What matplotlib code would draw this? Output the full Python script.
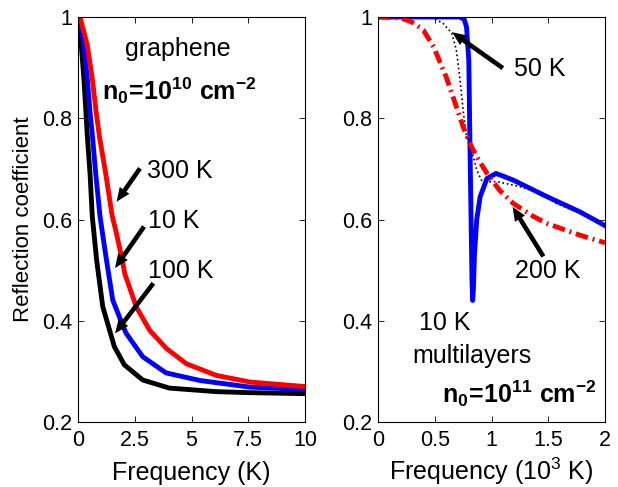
import matplotlib
matplotlib.use("Agg")
import matplotlib.pyplot as plt

plt.rcParams['font.family'] = ['Liberation Sans', 'DejaVu Sans']
plt.rcParams['mathtext.fontset'] = 'custom'
plt.rcParams['mathtext.rm'] = 'Liberation Sans'
plt.rcParams['mathtext.it'] = 'Liberation Sans'
plt.rcParams['mathtext.bf'] = 'Liberation Sans:bold'

# ---------------- data: left panel (graphene, n0=1e10 cm^-2) ----------------
freq_300 = [0.09, 0.41, 0.63, 0.80, 0.95, 1.22, 1.51, 1.66, 1.95, 2.06, 2.57, 3.16, 3.9, 4.78,
            6.1, 7.57, 10.0]
refl_300 = [1.0, 0.944, 0.878, 0.812, 0.762, 0.691, 0.606, 0.579, 0.52, 0.493, 0.427, 0.381,
            0.345, 0.315, 0.292, 0.279, 0.270]

freq_10 = [0.04, 0.26, 0.41, 0.53, 0.63, 0.78, 0.97, 1.22, 1.53, 1.82, 2.11, 2.85, 3.88, 5.37,
           7.57, 10.0]
refl_10 = [1.0, 0.944, 0.878, 0.812, 0.768, 0.691, 0.606, 0.53, 0.441, 0.408, 0.376, 0.329,
           0.297, 0.282, 0.269, 0.264]

freq_100 = [0.0, 0.146, 0.26, 0.35, 0.41, 0.53, 0.63, 0.82, 1.09, 1.6, 2.04, 2.85, 4.02, 6.08,
            7.5, 10.0]
refl_100 = [1.0, 0.944, 0.878, 0.812, 0.765, 0.691, 0.606, 0.52, 0.428, 0.349, 0.313, 0.283,
            0.267, 0.260, 0.258, 0.256]

# ---------------- data: right panel (multilayers, n0=1e11 cm^-2) ----------------
mfreq_10 = [0.0, 0.5, 0.72, 0.76, 0.78, 0.80, 0.81, 0.82, 0.828, 0.834, 0.84, 0.85, 0.87,
            0.90, 0.96, 1.04, 1.19, 1.49, 1.78, 2.0]
mrefl_10 = [1.0, 1.0, 1.0, 0.995, 0.98, 0.915, 0.75, 0.60, 0.48, 0.44, 0.46, 0.53, 0.60,
            0.645, 0.681, 0.691, 0.678, 0.645, 0.615, 0.588]

mfreq_50 = [0.0, 0.3, 0.49, 0.575, 0.65, 0.69, 0.72, 0.75, 0.78, 0.84, 0.87, 0.91, 0.97,
            1.045, 1.25, 1.40, 1.57, 1.78, 2.0]
mrefl_50 = [1.0, 1.0, 0.998, 0.987, 0.968, 0.935, 0.882, 0.816, 0.764, 0.724, 0.698, 0.678,
            0.674, 0.675, 0.665, 0.655, 0.632, 0.612, 0.585]

mfreq_200 = [0.0, 0.2, 0.3, 0.4, 0.49, 0.6, 0.69, 0.75, 0.81, 0.87, 0.96, 1.07, 1.19, 1.37,
             1.49, 1.78, 2.0]
mrefl_200 = [1.0, 0.998, 0.99, 0.974, 0.941, 0.882, 0.823, 0.783, 0.75, 0.724, 0.691, 0.658,
             0.632, 0.606, 0.592, 0.569, 0.554]

left_xticks = [0, 2.5, 5, 7.5, 10]
left_xticklabels = ['0', '2.5', '5', '7.5', '10']
right_xticks = [0, 0.5, 1, 1.5, 2]
right_xticklabels = ['0', '0.5', '1', '1.5', '2']
yticks = [0.2, 0.4, 0.6, 0.8, 1.0]
yticklabels = ['0.2', '0.4', '0.6', '0.8', '1']

W, H = 618, 487
fig = plt.figure(figsize=(W / 100, H / 100), dpi=100)
axL = fig.add_axes([78 / W, (H - 422) / H, 227 / W, 405 / H])
axR = fig.add_axes([378 / W, (H - 422) / H, 227 / W, 405 / H])

LW = 3.5
TICKFS = 15.5
LABFS = 18

arrow_kw = dict(arrowstyle='simple,tail_width=0.33,head_width=0.85,head_length=1.0',
                mutation_scale=10, fc='k', ec='k', lw=0, shrinkA=0, shrinkB=0)

# ---------------- left panel ----------------
axL.plot(freq_100, refl_100, color='k', lw=LW, solid_joinstyle='round')
axL.plot(freq_10, refl_10, color='#0000ff', lw=LW, solid_joinstyle='round')
axL.plot(freq_300, refl_300, color='#ff0000', lw=LW, solid_joinstyle='round')

axL.text(4.41, 0.922, 'graphene', fontsize=LABFS, ha='center', va='baseline')
axL.text(1.06, 0.836, r'$\mathbf{n_0\!=\!10^{10}\ cm^{-2}}$', fontsize=LABFS, ha='left', va='baseline')
axL.text(3.02, 0.681, '300 K', fontsize=LABFS, ha='left', va='baseline')
axL.text(3.07, 0.583, '10 K', fontsize=LABFS, ha='left', va='baseline')
axL.text(3.10, 0.484, '100 K', fontsize=LABFS, ha='left', va='baseline')
axL.annotate('', xy=(1.70, 0.635), xytext=(2.73, 0.701), arrowprops=arrow_kw)
axL.annotate('', xy=(1.63, 0.504), xytext=(2.91, 0.586), arrowprops=arrow_kw)
axL.annotate('', xy=(1.63, 0.375), xytext=(3.32, 0.474), arrowprops=arrow_kw)

axL.set_xlim(0, 10)
axL.set_ylim(0.2, 1.0)
axL.set_xticks(left_xticks)
axL.set_xticklabels(left_xticklabels)
axL.set_yticks(yticks)
axL.set_yticklabels(yticklabels)
axL.set_xlabel('Frequency (K)', fontsize=LABFS, va='baseline')
axL.set_ylabel('Reflection coefficient', fontsize=16, labelpad=6)

# ---------------- right panel ----------------
axR.plot(mfreq_50, mrefl_50, color='k', lw=1.2, ls=':')
axR.plot(mfreq_10, mrefl_10, color='#0000ff', lw=LW, solid_joinstyle='round')
axR.plot(mfreq_200, mrefl_200, color='#ff0000', lw=LW, ls=(0, (2.6, 1.0, 0.4, 1.0)))

axR.text(1.20, 0.883, '50 K', fontsize=LABFS, ha='left', va='baseline')
axR.text(1.21, 0.484, '200 K', fontsize=LABFS, ha='left', va='baseline')
axR.text(0.361, 0.382, '10 K', fontsize=LABFS, ha='left', va='baseline')
axR.text(0.305, 0.316, 'multilayers', fontsize=LABFS, ha='left', va='baseline')
axR.text(0.561, 0.237, r'$\mathbf{n_0\!=\!10^{11}\ cm^{-2}}$', fontsize=LABFS, ha='left', va='baseline')
axR.annotate('', xy=(0.652, 0.970), xytext=(1.10, 0.899), arrowprops=arrow_kw)
axR.annotate('', xy=(1.186, 0.625), xytext=(1.457, 0.527), arrowprops=arrow_kw)

axR.set_xlim(0, 2)
axR.set_ylim(0.2, 1.0)
axR.set_xticks(right_xticks)
axR.set_xticklabels(right_xticklabels)
axR.set_yticks(yticks)
axR.set_yticklabels(yticklabels)
axR.set_xlabel(r'Frequency (10$^3$ K)', fontsize=LABFS, va='baseline')

# baseline of x labels ~ 480 px from top (kept inside the canvas)
ybase = -(480 - 422) / 405
for ax in (axL, axR):
    ax.xaxis.set_label_coords(0.5, ybase)
    ax.tick_params(direction='in', length=4, width=0.6, top=True, right=True,
                   labelsize=TICKFS, pad=6)
    ax.tick_params(axis='y', pad=4)
    for s in ax.spines.values():
        s.set_linewidth(0.8)

fig.savefig('out.png', dpi=100)
